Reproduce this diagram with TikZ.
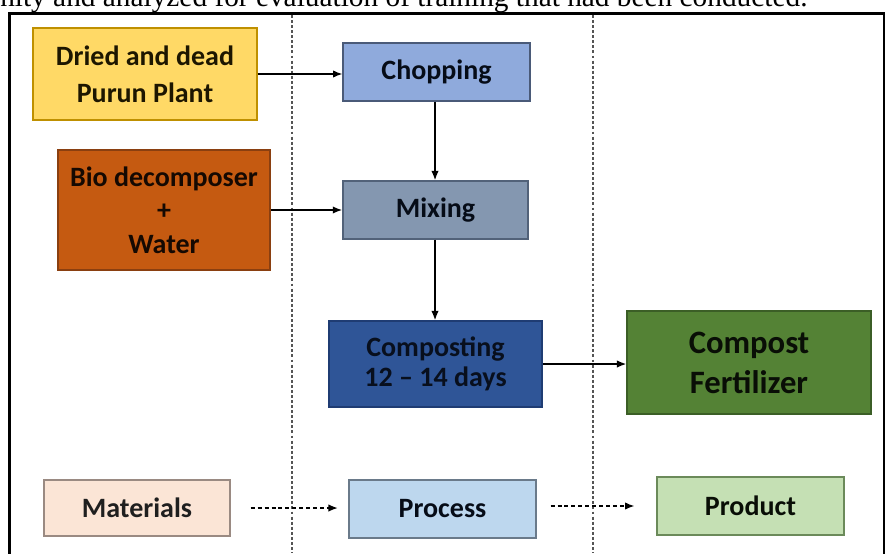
\documentclass[tikz,border=0pt]{standalone}
\usepackage{fontspec}
\setmainfont{Carlito}
\newfontfamily\serifbody{Liberation Serif}
\usetikzlibrary{arrows.meta}
\definecolor{dryfill}{HTML}{FFD966}
\definecolor{drydraw}{HTML}{BF9000}
\definecolor{biofill}{HTML}{C55A11}
\definecolor{biodraw}{HTML}{8A3F10}
\definecolor{chopfill}{HTML}{8FAADC}
\definecolor{chopdraw}{HTML}{4A5A78}
\definecolor{mixfill}{HTML}{8497B0}
\definecolor{mixdraw}{HTML}{526279}
\definecolor{compfill}{HTML}{2F5597}
\definecolor{compdraw}{HTML}{1F3C73}
\definecolor{fertfill}{HTML}{548235}
\definecolor{fertdraw}{HTML}{3B5E26}
\definecolor{matfill}{HTML}{FBE5D6}
\definecolor{matdraw}{HTML}{9A8A82}
\definecolor{procfill}{HTML}{BDD7EE}
\definecolor{procdraw}{HTML}{6A7A8A}
\definecolor{prodfill}{HTML}{C5E0B4}
\definecolor{proddraw}{HTML}{6B8A5A}
\definecolor{sepgray}{HTML}{555555}
\begin{document}
\begin{tikzpicture}[x=0.75pt,y=-0.75pt,
  box/.style={draw, line width=1.1pt, rectangle, align=center, inner sep=2pt,
    font=\bfseries\fontsize{21}{27}\selectfont},
  flow/.style={line width=1pt, -{Latex[length=7pt,width=5.5pt]}},
  legflow/.style={line width=1pt, dash pattern=on 3pt off 2.2pt, -{Latex[length=7pt,width=5.5pt]}},
  sepline/.style={sepgray, line width=0.8pt, dash pattern=on 2.2pt off 1.6pt}]
\path[use as bounding box, clip] (0,0) rectangle (887,553);
\fill[white] (0,0) rectangle (887,553);
% caption fragment at top
\node[anchor=base west, inner sep=0pt, font=\serifbody\fontsize{22}{24}\selectfont] (cap) at (0,7)
  {nity and analyzed for evaluation of training that had been conducted.};
% frame
\draw[line width=1.9pt] (9.5,560) -- (9.5,13.5) -- (884,13.5) -- (884,560);
% separators
\draw[sepline] (292,15) -- (292,553);
\draw[sepline] (593,15) -- (593,553);
% boxes
\node[box, fill=dryfill, draw=drydraw, text=black!85!drydraw, minimum width=168pt, minimum height=69pt,
  font=\bfseries\fontsize{21}{27.75}\selectfont] (dried) at (145,74) {Dried and dead\\Purun Plant};
\node[box, fill=biofill, draw=biodraw, text=black!85!biodraw, minimum width=159pt, minimum height=90pt,
  font=\bfseries\fontsize{21}{25}\selectfont] (bio) at (164,210) {Bio decomposer\\+\\Water};
\node[box, fill=chopfill, draw=chopdraw, text=black!80!compdraw, minimum width=140pt, minimum height=43.5pt] (chop) at (436.5,72) {Chopping};
\node[box, fill=mixfill, draw=mixdraw, text=black!80!compdraw, minimum width=139pt, minimum height=43.5pt] (mix) at (435.5,210) {Mixing};
\node[box, fill=compfill, draw=compdraw, text=black!75!compdraw, minimum width=160pt, minimum height=64.5pt,
  font=\bfseries\fontsize{21}{22.5}\selectfont] (comp) at (435.5,364) {Composting\\12 -- 14 days};
\node[box, fill=fertfill, draw=fertdraw, text=black!85!fertdraw, minimum width=183pt, minimum height=77pt,
  font=\bfseries\fontsize{24.5}{30}\selectfont] (fert) at (749,362.5) {Compost\\Fertilizer};
\node[box, fill=matfill, draw=matdraw, text=black!88, minimum width=139.5pt, minimum height=42pt] (mat) at (137,508) {Materials};
\node[box, fill=procfill, draw=procdraw, text=black!80!compdraw, minimum width=140pt, minimum height=43.5pt] (proc) at (442.5,509) {Process};
\node[box, fill=prodfill, draw=proddraw, text=black!85!fertdraw, minimum width=140pt, minimum height=43.5pt] (prod) at (750.5,506) {Product};
% connectors
\draw[flow] (dried.east) -- (dried.east -| chop.west);
\draw[flow] (bio.east) -- (bio.east -| mix.west);
\draw[flow] (chop.south -| 435,0) -- (mix.north -| 435,0);
\draw[flow] (mix.south -| 435,0) -- (comp.north -| 435,0);
\draw[flow] (comp.east) -- (comp.east -| fert.west);
\draw[legflow, shorten <=15pt, shorten >=8pt] (mat.east) -- (mat.east -| proc.west);
\draw[legflow, shorten <=10.5pt, shorten >=16.5pt] (proc.east |- prod.west) -- (prod.west);
\end{tikzpicture}
\end{document}
